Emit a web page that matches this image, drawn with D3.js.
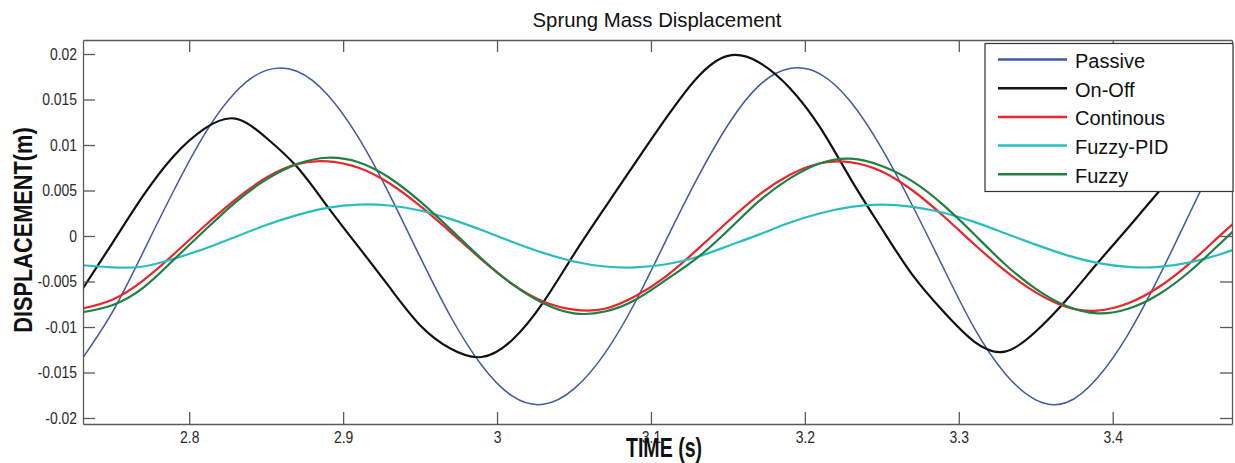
<!DOCTYPE html>
<html>
<head>
<meta charset="utf-8">
<script src="https://cdn.jsdelivr.net/npm/d3@7"></script>
<style>
  body { margin: 0; background: #fff; }
  svg { display: block; font-family: "Liberation Sans", Arial, sans-serif; }
</style>
</head>
<body>
<svg id="chart" width="1235" height="463"></svg>
<script>
// sample times (s), every 0.02 s across the window
const time = [2.73, 2.75, 2.77, 2.79, 2.81, 2.83, 2.85, 2.87, 2.89, 2.91,
  2.93, 2.95, 2.97, 2.99, 3.01, 3.03, 3.05, 3.07, 3.09, 3.11,
  3.13, 3.15, 3.17, 3.19, 3.21, 3.23, 3.25, 3.27, 3.29, 3.31,
  3.33, 3.35, 3.37, 3.39, 3.41, 3.43, 3.45, 3.47, 3.49];

// displacement (m)
const passive = [-0.0136, -0.0084, -0.0018, 0.0050, 0.0112, 0.0158, 0.0182, 0.0181, 0.0155, 0.0108,
  0.0046, -0.0023, -0.0089, -0.0142, -0.0176, -0.0185, -0.0168, -0.0129, -0.0072, -0.0004,
  0.0063, 0.0122, 0.0165, 0.0184, 0.0178, 0.0147, 0.0096, 0.0033, -0.0035, -0.0101,
  -0.0151, -0.0180, -0.0183, -0.0156, -0.0108, -0.0045, 0.0025, 0.0092, 0.0145];
const onOff = [-0.0060, -0.0008, 0.0044, 0.0088, 0.0118, 0.0129, 0.0108, 0.0076, 0.0032, -0.0012,
  -0.0056, -0.0098, -0.0124, -0.0133, -0.0114, -0.0073, -0.0020, 0.0031, 0.0081, 0.0130,
  0.0174, 0.0198, 0.0191, 0.0163, 0.0119, 0.0062, 0.0008, -0.0043, -0.0083, -0.0116,
  -0.0127, -0.0105, -0.0070, -0.0030, 0.0009, 0.0049, 0.0090, 0.0135, 0.0172];
const continous = [-0.0080, -0.0070, -0.0049, -0.0020, 0.0011, 0.0040, 0.0064, 0.0079, 0.0082, 0.0075,
  0.0058, 0.0033, 0.0004, -0.0026, -0.0053, -0.0072, -0.0081, -0.0080, -0.0066, -0.0044,
  -0.0015, 0.0016, 0.0045, 0.0067, 0.0080, 0.0081, 0.0071, 0.0050, 0.0022, -0.0009,
  -0.0038, -0.0062, -0.0078, -0.0082, -0.0074, -0.0056, -0.0030, 0.0001, 0.0031];
const fuzzyPid = [-0.0032, -0.00345, -0.00335, -0.0025, -0.0014, -0.0001, 0.0012, 0.0023, 0.0031, 0.00345,
  0.00335, 0.0028, 0.00185, 0.00065, -0.00065, -0.00185, -0.0028, -0.00335, -0.00345, -0.0031,
  -0.0023, -0.0011, 0.00015, 0.00145, 0.0025, 0.0032, 0.00345, 0.0032, 0.00255, 0.00155,
  0.0003, -0.00095, -0.0021, -0.00295, -0.0034, -0.0034, -0.0029, -0.0020, -0.0008];
const fuzzy = [-0.0084, -0.0076, -0.0057, -0.0026, 0.0006, 0.0037, 0.0062, 0.0079, 0.0086, 0.0081,
  0.0064, 0.0038, 0.0007, -0.0025, -0.0053, -0.0074, -0.0085, -0.0083, -0.0070, -0.0048,
  -0.0024, 0.0006, 0.0038, 0.0063, 0.0080, 0.0085, 0.0077, 0.0060, 0.0034, 0.0002,
  -0.0031, -0.0058, -0.0077, -0.0085, -0.0080, -0.0064, -0.0039, -0.0008, 0.0024];

const seriesNames = ["Passive", "On-Off", "Continous", "Fuzzy-PID", "Fuzzy"];
const xTicks = [2.8, 2.9, 3.0, 3.1, 3.2, 3.3, 3.4];
const yTicks = [-0.02, -0.015, -0.01, -0.005, 0, 0.005, 0.01, 0.015, 0.02];

const seriesValues = [passive, onOff, continous, fuzzyPid, fuzzy];
const colors = ["#3f59a8", "#111111", "#e8262c", "#2bbdbd", "#1f8043"];
const widths = [1.5, 2.2, 2.2, 2.2, 2.2];

// plot box in pixels
const plotL = 83, plotR = 1232, plotT = 40, plotB = 424;

const svg = d3.select("#chart");

const x = d3.scaleLinear().domain([2.731, 3.4775]).range([plotL, plotR]);
const y = d3.scaleLinear().domain([-0.02066, 0.02154]).range([plotB, plotT]);

svg.append("clipPath").attr("id", "plotclip")
  .append("rect")
  .attr("x", plotL).attr("y", plotT)
  .attr("width", plotR - plotL).attr("height", plotB - plotT);

// lines
const line = d3.line()
  .x(d => x(d[0]))
  .y(d => y(d[1]))
  .curve(d3.curveNatural);

const lineLayer = svg.append("g").attr("clip-path", "url(#plotclip)");
seriesValues.forEach((vals, i) => {
  lineLayer.append("path")
    .datum(time.map((t, j) => [t, vals[j]]))
    .attr("fill", "none")
    .attr("stroke", colors[i])
    .attr("stroke-width", widths[i])
    .attr("stroke-linejoin", "round")
    .attr("d", line);
});

// axes, matlab style: inward ticks on all four sides
const axisColor = "#5a5a5a";
const tickFs = 17, tickSx = 0.82;

const fmtX = d => String(+d.toFixed(1));
const fmtY = d => String(+d.toFixed(3));

const gx = svg.append("g").attr("transform", `translate(0,${plotB})`)
  .call(d3.axisBottom(x).tickValues(xTicks).tickFormat(fmtX)
    .tickSizeInner(-12).tickSizeOuter(0).tickPadding(7));
const gy = svg.append("g").attr("transform", `translate(${plotL},0)`)
  .call(d3.axisLeft(y).tickValues(yTicks).tickFormat(fmtY)
    .tickSizeInner(-12).tickSizeOuter(0).tickPadding(7.3));
const gxt = svg.append("g").attr("transform", `translate(0,${plotT})`)
  .call(d3.axisTop(x).tickValues(xTicks).tickFormat("")
    .tickSizeInner(-12).tickSizeOuter(0));
const gyr = svg.append("g").attr("transform", `translate(${plotR},0)`)
  .call(d3.axisRight(y).tickValues(yTicks).tickFormat("")
    .tickSizeInner(-12).tickSizeOuter(0));

[gx, gy, gxt, gyr].forEach(g => {
  g.select(".domain").attr("stroke", axisColor).attr("stroke-width", 1.3);
  g.selectAll(".tick line").attr("stroke", axisColor).attr("stroke-width", 1.3);
  g.selectAll(".tick text")
    .attr("font-family", "Liberation Sans, Arial, sans-serif")
    .attr("font-size", tickFs)
    .attr("fill", "#2a2a2a")
    .attr("transform", `scale(${tickSx},1)`);
});

// condensed text helper
function label(xp, yp, str, size, sx, opts = {}) {
  return svg.append("text")
    .attr("transform", `translate(${xp},${yp}) rotate(${opts.rotate || 0}) scale(${sx},1)`)
    .attr("text-anchor", opts.anchor || "middle")
    .attr("font-size", size)
    .attr("font-weight", opts.weight || "normal")
    .attr("fill", opts.fill || "#111")
    .text(str);
}

label(657, 27, "Sprung Mass Displacement", 21, 0.97);
label(664, 457, "TIME (s)", 28, 0.7, { weight: "bold" });
label(31.5, 230, "DISPLACEMENT(m)", 25, 0.87, { weight: "bold", rotate: -90 });

// legend
const lgX = 985, lgY = 43.5, lgW = 248, lgH = 148, rowH = 28.7;
const legend = svg.append("g");
legend.append("rect")
  .attr("x", lgX).attr("y", lgY)
  .attr("width", lgW).attr("height", lgH)
  .attr("fill", "#fff")
  .attr("stroke", "#333").attr("stroke-width", 1.2);

seriesNames.forEach((name, i) => {
  const yy = lgY + 16 + i * rowH;
  legend.append("line")
    .attr("x1", lgX + 13).attr("x2", lgX + 82)
    .attr("y1", yy).attr("y2", yy)
    .attr("stroke", colors[i]).attr("stroke-width", 2.5);
  legend.append("text")
    .attr("x", lgX + 90).attr("y", yy + 8.5)
    .attr("font-size", 20)
    .attr("fill", "#111")
    .text(name);
});
</script>
</body>
</html>
